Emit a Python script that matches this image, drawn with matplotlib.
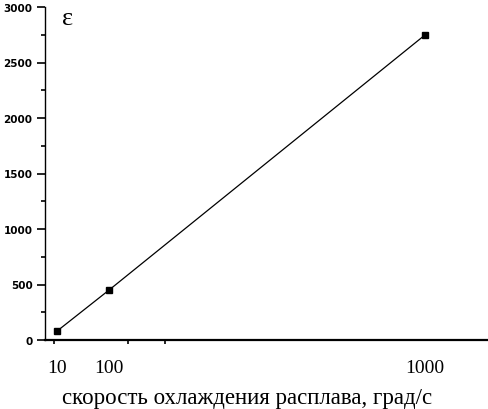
import numpy as np
import matplotlib
matplotlib.use("Agg")
import matplotlib.pyplot as plt

# cooling rate of the melt, K/s  vs  epsilon
rate = [10, 100, 1000]
eps = [80, 450, 2750]
rate_labels = ["10", "100", "1000"]

# the original axis is neither linear nor log: piecewise linear between the labels
scale_vals = [-20, 10, 100, 1000, 1300]
scale_pos = [39.7, 57, 109, 425, 530]


def fwd(x):
    return np.interp(x, scale_vals, scale_pos)


def inv(p):
    return np.interp(p, scale_pos, scale_vals)


fig = plt.figure(figsize=(4.89, 4.10), dpi=100)
ax = fig.add_axes([45 / 489, 69 / 410, 444 / 489, 333 / 410])

ax.plot(rate, eps, color="black", lw=0.9, marker="s", ms=4.3,
        mfc="black", mec="black")

ax.set_xscale("function", functions=(fwd, inv))
ax.set_xlim(-10.8, 1182)
ax.set_ylim(0, 3000)

ax.spines["top"].set_visible(False)
ax.spines["right"].set_visible(False)
ax.spines["left"].set_linewidth(1.0)
ax.spines["bottom"].set_linewidth(1.6)

ax.set_yticks(np.arange(0, 3001, 500))
ax.set_yticks(np.arange(250, 3000, 500), minor=True)
ax.tick_params(axis="y", which="major", length=6, width=1.2, pad=3,
               direction="out")
ax.tick_params(axis="y", which="minor", length=3, width=1.2, direction="out")
for lab in ax.get_yticklabels():
    lab.set_fontfamily("DejaVu Sans")
    lab.set_fontweight("bold")
    lab.set_fontsize(7.5)

ax.set_xticks(rate)
ax.set_xticklabels(rate_labels, fontfamily="Liberation Serif", fontsize=14)
ax.set_xticks([4.8, 154, 259, 1000], minor=True)
ax.tick_params(axis="x", which="major", length=0, pad=14)
ax.tick_params(axis="x", which="minor", length=3, width=1.2, direction="out")

ax.set_xlabel("скорость охлаждения расплава, град/с",
              fontfamily="Liberation Serif", fontsize=16.5)
ax.xaxis.set_label_coords(0.455, -0.14)

ax.text(0.038, 1.0, "ε", transform=ax.transAxes, fontsize=19,
        fontfamily="Liberation Serif", va="top", ha="left")

fig.savefig("out.png", dpi=100)
